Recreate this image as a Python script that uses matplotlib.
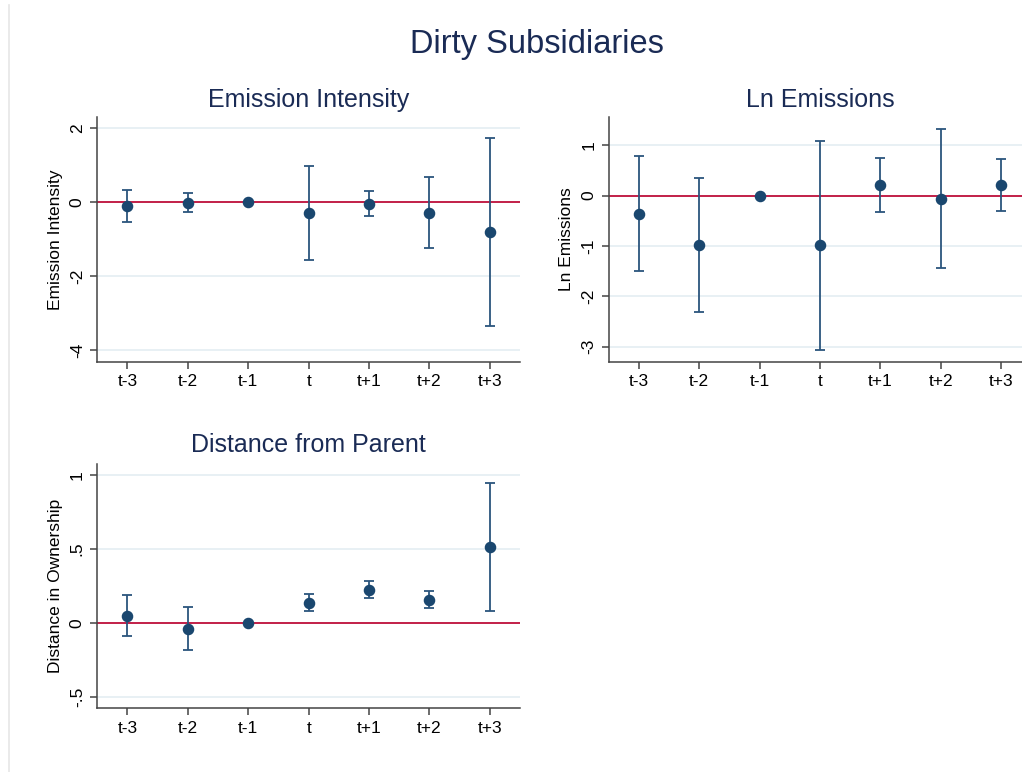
import numpy as np
import matplotlib
matplotlib.use("Agg")
import matplotlib.pyplot as plt
from matplotlib.lines import Line2D

plt.rcParams['font.family'] = ['Liberation Sans', 'DejaVu Sans']

periods = ["t-3", "t-2", "t-1", "t", "t+1", "t+2", "t+3"]

# Emission Intensity
ei_coef = [-0.10, -0.01, 0.0, -0.30, -0.04, -0.28, -0.81]
ei_low = [-0.54, -0.26, 0.0, -1.56, -0.38, -1.23, -3.36]
ei_high = [0.34, 0.24, 0.0, 0.97, 0.30, 0.68, 1.75]

# Ln Emissions
le_coef = [-0.36, -0.99, 0.0, -0.99, 0.21, -0.06, 0.21]
le_low = [-1.49, -2.32, 0.0, -3.07, -0.33, -1.43, -0.31]
le_high = [0.79, 0.345, 0.0, 1.09, 0.74, 1.32, 0.73]

# Distance in Ownership
dp_coef = [0.047, -0.041, 0.0, 0.135, 0.221, 0.153, 0.51]
dp_low = [-0.088, -0.183, 0.0, 0.079, 0.165, 0.099, 0.077]
dp_high = [0.185, 0.104, 0.0, 0.192, 0.28, 0.212, 0.945]

navy = "#1a476f"
bar_col = "#2b557d"
red = "#c0103a"
grid_col = "#e4eef2"
title_col = "#1a2b55"

fig = plt.figure(figsize=(10.22, 7.72), dpi=100)
fig.patch.set_facecolor("white")
fig.add_artist(Line2D([0.009, 0.009], [0.0, 0.993], color="#e6e6e6", lw=1.2))


def panel(rect, coef, low, high, ylim, yticks, yticklabels, ylabel, title, ty):
    ax = fig.add_axes(rect)
    x = np.arange(len(periods))
    coef = np.array(coef)
    yerr = [coef - np.array(low), np.array(high) - coef]
    ax.axhline(0, color=red, lw=1.3, zorder=2)
    ax.errorbar(x, coef, yerr=yerr, fmt="none", ecolor=bar_col, elinewidth=1.3,
                capsize=3.3, capthick=1.3, zorder=3)
    ax.plot(x, coef, "o", color=navy, ms=7.3, zorder=4)
    ax.set_xlim(-0.5, len(periods) - 0.5)
    ax.set_ylim(*ylim)
    ax.set_xticks(x)
    ax.set_xticklabels(periods, fontsize=12.5)
    ax.set_yticks(yticks)
    ax.set_yticklabels(yticklabels, fontsize=12.5, rotation=90, va="center")
    ax.yaxis.grid(True, color=grid_col, lw=1.2)
    ax.set_axisbelow(True)
    for s in ["top", "right"]:
        ax.spines[s].set_visible(False)
    for s in ["left", "bottom"]:
        ax.spines[s].set_color("#444444")
        ax.spines[s].set_linewidth(1.1)
    ax.tick_params(length=5, width=1.1, color="#444444", labelcolor="black", pad=4)
    ax.set_ylabel(ylabel, fontsize=12.5, labelpad=5)
    pos = ax.get_position()
    fig.text((pos.x0 + pos.x1) / 2, ty, title, fontsize=18, color=title_col,
             ha="center", va="center")
    return ax


panel([0.0952, 0.5311, 0.4136, 0.3174], ei_coef, ei_low, ei_high,
      (-4.33, 2.31), [2, 0, -2, -4], ["2", "0", "-2", "-4"],
      "Emission Intensity", "Emission Intensity", 1 - 100 / 772)
panel([0.5956, 0.5315, 0.4136, 0.3165], le_coef, le_low, le_high,
      (-3.30, 1.556), [1, 0, -1, -2, -3], ["1", "0", "-1", "-2", "-3"],
      "Ln Emissions", "Ln Emissions", 1 - 100 / 772)
panel([0.0952, 0.0825, 0.4136, 0.3161], dp_coef, dp_low, dp_high,
      (-0.579, 1.072), [1, 0.5, 0, -0.5], ["1", ".5", "0", "-.5"],
      "Distance in Ownership", "Distance from Parent", 1 - 445 / 772)

fig.text(0.525, 1 - 45 / 772, "Dirty Subsidiaries", fontsize=23.5, color=title_col,
         ha="center", va="center")

fig.savefig("out.png", dpi=100)
